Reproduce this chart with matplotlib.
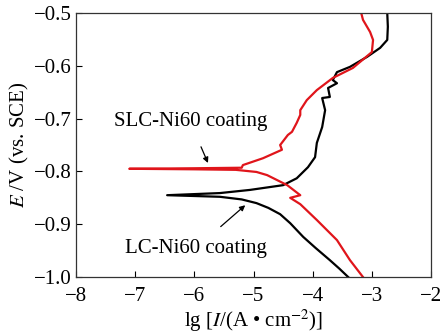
import matplotlib
matplotlib.use("Agg")
import matplotlib.pyplot as plt

plt.rcParams['font.family'] = ['Liberation Serif', 'DejaVu Serif']
plt.rcParams['mathtext.fontset'] = 'stix'

# SLC-Ni60 coating (red): anodic branch top->tip, then cathodic branch tip->bottom
slc_x = [-3.18, -3.15, -3.03, -2.98, -3.00, -3.32, -3.66, -3.93, -4.10, -4.21, -4.21,
         -4.27, -4.35, -4.42, -4.55, -4.52, -4.60, -4.84, -5.18, -5.20, -6.00, -7.10,
         -6.00, -5.30, -4.95, -4.77, -4.43, -4.21, -4.38, -4.21, -3.93, -3.59, -3.37, -3.15]
slc_y = [-0.500, -0.513, -0.536, -0.551, -0.574, -0.604, -0.623, -0.646, -0.665, -0.684, -0.693,
         -0.708, -0.725, -0.731, -0.750, -0.759, -0.763, -0.775, -0.788, -0.793, -0.794, -0.795,
         -0.796, -0.797, -0.801, -0.807, -0.826, -0.845, -0.850, -0.862, -0.892, -0.930, -0.968, -1.000]

# LC-Ni60 coating (black)
lc_x = [-2.74, -2.73, -2.74, -2.86, -3.08, -3.37, -3.59, -3.66, -3.59, -3.74, -3.71, -3.84,
        -3.79, -3.84, -3.93, -3.96, -4.08, -4.27, -4.50, -5.06, -5.57, -6.46,
        -5.57, -5.20, -4.95, -4.75, -4.55, -4.38, -4.16, -3.95, -3.71, -3.55, -3.40]
lc_y = [-0.500, -0.526, -0.551, -0.566, -0.583, -0.602, -0.612, -0.627, -0.633, -0.642, -0.659, -0.661,
        -0.684, -0.716, -0.746, -0.773, -0.792, -0.813, -0.826, -0.835, -0.841, -0.845,
        -0.848, -0.853, -0.860, -0.869, -0.881, -0.898, -0.924, -0.945, -0.968, -0.984, -1.000]

x_ticks = [-8, -7, -6, -5, -4, -3, -2]
y_ticks = [-1.0, -0.9, -0.8, -0.7, -0.6, -0.5]

fig = plt.figure(figsize=(4.43, 3.33), dpi=100)
ax = fig.add_axes([0.1716, 0.168, 0.8014, 0.793])

ax.plot(lc_x, lc_y, color='black', lw=1.6)
ax.plot(slc_x, slc_y, color='#e0151b', lw=1.6)

ax.set_xlim(-8, -2)
ax.set_ylim(-1.0, -0.5)
ax.set_xticks(x_ticks)
ax.set_yticks(y_ticks)
ax.set_xticklabels([f"\u2212{abs(v)}" for v in x_ticks])
ax.set_yticklabels([f"\u2212{abs(v):.1f}" for v in y_ticks])
ax.tick_params(direction='in', length=4, width=0.8, labelsize=15)
ax.tick_params(axis='x', pad=7)
ax.tick_params(axis='y', pad=3)
for s in ax.spines.values():
    s.set_linewidth(0.9)
    s.set_color('#333333')

ax.set_xlabel(r'lg [$I$/(A • cm$^{-2}$)]', fontsize=15, labelpad=1)
ax.set_ylabel(r'$E$ /V (vs. SCE)', fontsize=15, labelpad=2)

ax.annotate('SLC-Ni60 coating', xy=(-5.77, -0.784), xytext=(-6.07, -0.706),
            fontsize=15, ha='center', va='center',
            arrowprops=dict(arrowstyle='-|>', color='black', lw=0.9,
                            shrinkA=10, shrinkB=0, mutation_scale=8))
ax.annotate('LC-Ni60 coating', xy=(-5.14, -0.864), xytext=(-5.97, -0.945),
            fontsize=15, ha='center', va='center',
            arrowprops=dict(arrowstyle='-|>', color='black', lw=0.9,
                            shrinkA=10, shrinkB=0, mutation_scale=8))

fig.savefig('out.png', dpi=100)
